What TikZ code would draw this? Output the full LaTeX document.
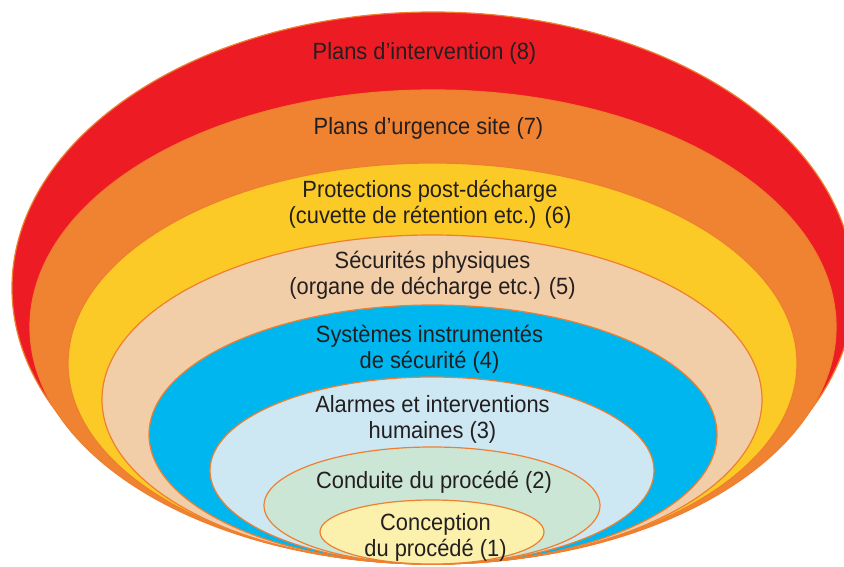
\documentclass[tikz,border=0pt]{standalone}
\usepackage{fontspec}
\setmainfont{Liberation Sans}[FakeStretch=0.93]
\usepackage{xcolor}
\usepackage{tikz}
\usetikzlibrary{positioning}

\definecolor{ringline}{HTML}{EF7F2E}
\definecolor{textgrey}{HTML}{231F20}
\definecolor{layer8}{HTML}{ED1C24}
\definecolor{layer7}{HTML}{F08332}
\definecolor{layer6}{HTML}{FBCA26}
\definecolor{layer5}{HTML}{F2CEA8}
\definecolor{layer4}{HTML}{00B6EF}
\definecolor{layer3}{HTML}{CDE8F3}
\definecolor{layer2}{HTML}{CCE6D5}
\definecolor{layer1}{HTML}{FBF1AD}

\begin{document}
\begin{tikzpicture}[x=1pt, y=-1pt]
    % Styles
    \tikzstyle{ring} = [draw=ringline, line width=1.2pt]
    \tikzstyle{ringtext} = [text=textgrey, align=center, inner sep=0pt, font=\fontsize{23.5}{26}\selectfont]

    \useasboundingbox (0,0) rectangle (844,567);

    % --- LAYERS, OUTSIDE IN ---
    \draw [ring, fill=layer8] (433,288) ellipse [x radius=421pt, y radius=276pt];
    \draw [ring, fill=layer7] (433,327) ellipse [x radius=403pt, y radius=237pt];
    \draw [ring, fill=layer6] (432.5,363.5) ellipse [x radius=364.5pt, y radius=200.5pt];
    \draw [ring, fill=layer5] (432,399.5) ellipse [x radius=330pt, y radius=164.5pt];
    \draw [ring, fill=layer4] (433,434.5) ellipse [x radius=284pt, y radius=129.5pt];
    \draw [ring, fill=layer3] (432,470.5) ellipse [x radius=222pt, y radius=93.5pt];
    \draw [ring, fill=layer2] (432,505.5) ellipse [x radius=168pt, y radius=58.5pt];
    \draw [ring, fill=layer1] (432,532) ellipse [x radius=112pt, y radius=32pt];

    % --- LABELS ---
    \node [ringtext] (plans8) at (424.5,53.9) {Plans d'intervention (8)};
    \node [ringtext] (plans7) at (428.5,128.9) {Plans d'urgence site (7)};
    \node [ringtext] (protect6) at (430,203.9) {Protections post-décharge\\(cuvette de rétention etc.) (6)};
    \node [ringtext] (secu5) at (432.5,274.9) {Sécurités physiques\\(organe de décharge etc.) (5)};
    \node [ringtext] (sis4) at (429.5,348.9) {Systèmes instrumentés\\de sécurité (4)};
    \node [ringtext] (alarm3) at (432.5,419.9) {Alarmes et interventions\\humaines (3)};
    \node [ringtext] (conduct2) at (434,481.9) {Conduite du procédé (2)};
    \node [ringtext] (design1) at (435.5,537) {Conception\\du procédé (1)};

\end{tikzpicture}
\end{document}
